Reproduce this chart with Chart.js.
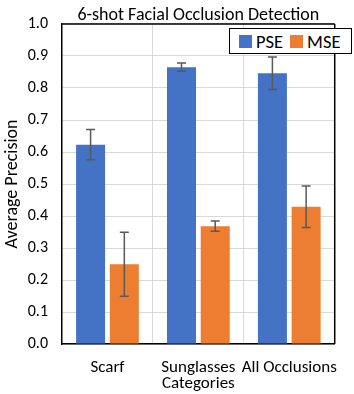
<!DOCTYPE html>
<html>
<head>
<meta charset="utf-8">
<script src="https://cdn.jsdelivr.net/npm/chart.js@4.4.0/dist/chart.umd.min.js"></script>
<style>
  html, body { margin: 0; padding: 0; background: #fff; }
  #wrap { position: relative; width: 354px; height: 394px; }
  #legend { position: absolute; left: 229px; top: 28px; width: 121px; height: 24px;
    border: 1.5px solid #000; background: #fff; display: flex; align-items: center;
    font-family: Carlito, Lato, "Open Sans", sans-serif; font-size: 18.5px; color: #000; box-sizing: content-box; }
  #legend .item { display: flex; align-items: center; margin-left: 9px; }
  #legend .item + .item { margin-left: 7px; }
  #legend .sw { width: 13px; height: 13px; margin-right: 4px; }
</style>
</head>
<body>
<div id="wrap">
  <canvas id="c" width="354" height="394"></canvas>
  <div id="legend"></div>
</div>
<script>
const categories = ["Scarf", "Sunglasses", "All Occlusions"];
const seriesNames = ["PSE", "MSE"];
const pseValues = [0.623, 0.865, 0.846];
const pseErrors = [0.047, 0.013, 0.051];
const mseValues = [0.249, 0.368, 0.429];
const mseErrors = [0.100, 0.016, 0.065];
const yTicks = [0.0, 0.1, 0.2, 0.3, 0.4, 0.5, 0.6, 0.7, 0.8, 0.9, 1.0];

const colors = ["#4472C4", "#ED7D31"];
const FONT = "Carlito, Lato, 'Open Sans', sans-serif";

const errorBarPlugin = {
  id: 'errorBars',
  afterDatasetsDraw(chart) {
    const ctx = chart.ctx;
    const y = chart.scales.y;
    ctx.save();
    ctx.strokeStyle = '#595959';
    ctx.lineWidth = 1.5;
    chart.data.datasets.forEach((ds, di) => {
      const meta = chart.getDatasetMeta(di);
      meta.data.forEach((bar, i) => {
        const v = ds.data[i], e = ds.errors[i];
        const yt = y.getPixelForValue(v + e), yb = y.getPixelForValue(v - e);
        const x = bar.x;
        ctx.beginPath();
        ctx.moveTo(x, yt); ctx.lineTo(x, yb);
        ctx.moveTo(x - 4.5, yt); ctx.lineTo(x + 4.5, yt);
        ctx.moveTo(x - 4.5, yb); ctx.lineTo(x + 4.5, yb);
        ctx.stroke();
      });
    });
    ctx.restore();
  }
};

const framePlugin = {
  id: 'frame',
  afterDraw(chart) {
    const a = chart.chartArea, ctx = chart.ctx;
    ctx.save();
    ctx.strokeStyle = '#000';
    ctx.lineWidth = 1.5;
    ctx.beginPath();
    ctx.moveTo(a.left, a.top); ctx.lineTo(a.right, a.top);
    ctx.moveTo(a.right, a.top); ctx.lineTo(a.right, a.bottom);
    ctx.stroke();
    ctx.restore();
  }
};

const chart = new Chart(document.getElementById('c'), {
  type: 'bar',
  data: {
    labels: categories,
    datasets: [
      { label: seriesNames[0], data: pseValues, errors: pseErrors, backgroundColor: colors[0],
        categoryPercentage: 0.742, barPercentage: 0.86 },
      { label: seriesNames[1], data: mseValues, errors: mseErrors, backgroundColor: colors[1],
        categoryPercentage: 0.742, barPercentage: 0.86 }
    ]
  },
  options: {
    responsive: false,
    animation: false,
    layout: { padding: { top: 0, right: 0, left: 0, bottom: 0 } },
    plugins: {
      legend: { display: false },
      tooltip: { enabled: false },
      title: {
        display: true,
        text: '6-shot Facial Occlusion Detection',
        fullSize: false,
        color: '#000',
        font: { family: FONT, size: 18, weight: 'normal', lineHeight: 1.2 },
        padding: { top: 5, bottom: -2.6 }
      }
    },
    scales: {
      x: {
        grid: { color: '#d9d9d9', lineWidth: 1, drawTicks: false, offset: true },
        border: { color: '#000', width: 1.5 },
        ticks: { color: '#000', font: { family: FONT, size: 17 }, padding: 14, maxRotation: 0, autoSkip: false },
        title: { display: true, text: 'Categories', color: '#000', font: { family: FONT, size: 17 }, padding: { top: -5, bottom: 0 } },
        afterFit(s) { s.height = 50; }
      },
      y: {
        min: 0, max: 1,
        afterBuildTicks(s) { s.ticks = yTicks.map(v => ({ value: v })); },
        grid: { color: '#d9d9d9', lineWidth: 1, drawTicks: false },
        border: { color: '#000', width: 1.5 },
        ticks: { color: '#000', font: { family: FONT, size: 16 }, padding: 14,
          callback: v => Number(v).toFixed(1) },
        title: { display: true, text: 'Average Precision', color: '#000', font: { family: FONT, size: 18 }, padding: { top: 2, bottom: 0 } },
        afterFit(s) { s.width = 62; }
      }
    }
  },
  plugins: [errorBarPlugin, framePlugin]
});

const leg = document.getElementById('legend');
chart.data.datasets.forEach(ds => {
  const it = document.createElement('div');
  it.className = 'item';
  it.innerHTML = '<span class="sw" style="background:' + ds.backgroundColor + '"></span><span>' + ds.label + '</span>';
  leg.appendChild(it);
});
</script>
</body>
</html>
